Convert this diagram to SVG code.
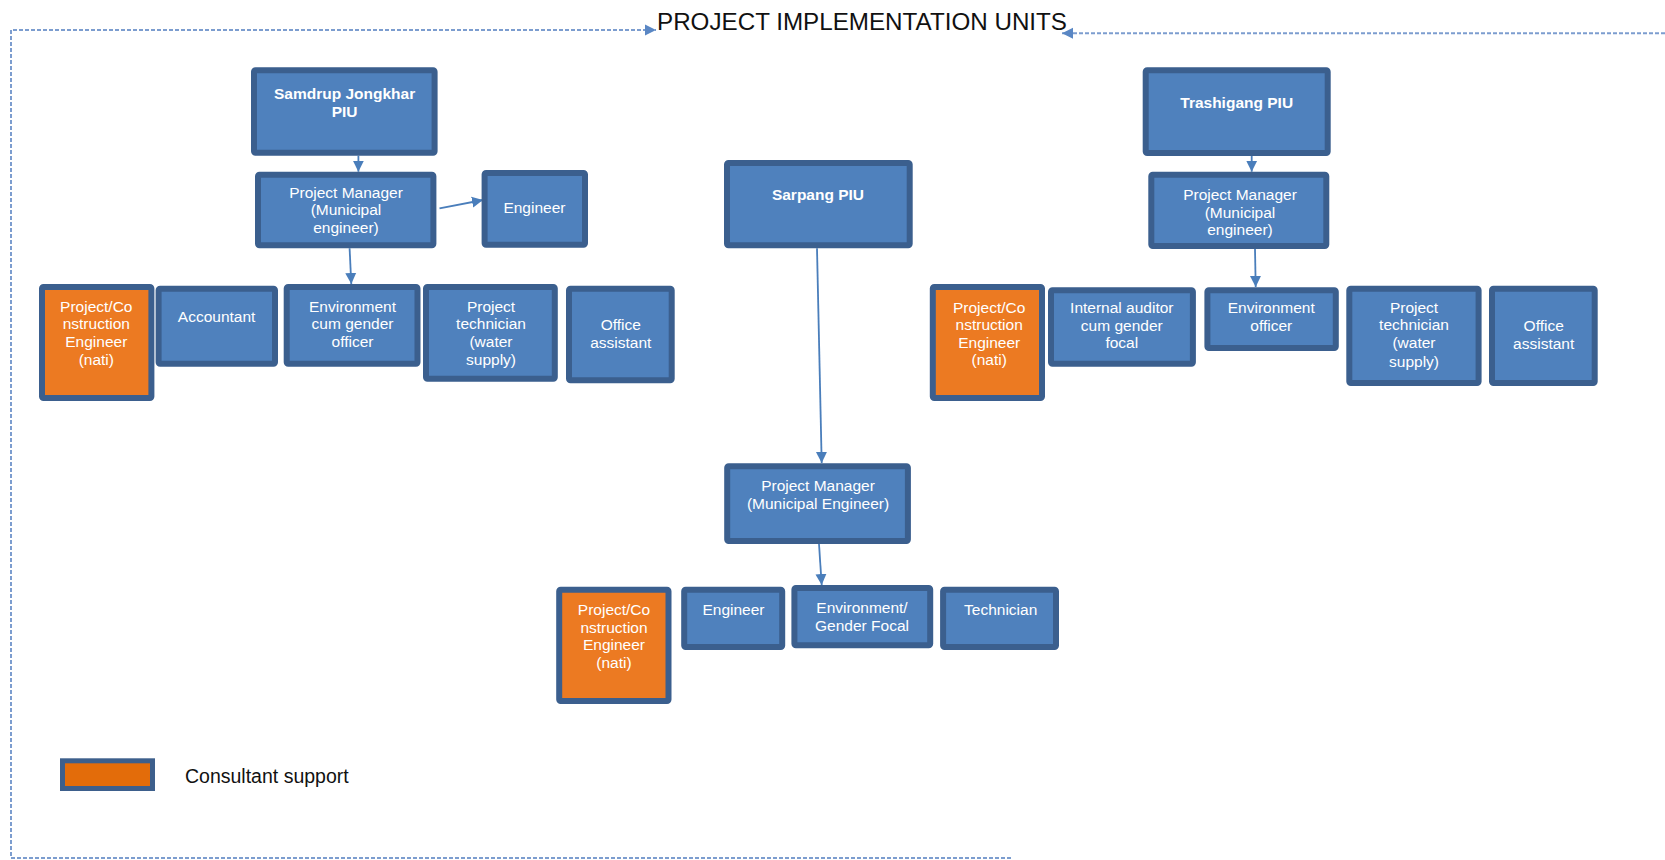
<svg xmlns="http://www.w3.org/2000/svg" width="1665" height="860" viewBox="0 0 1665 860">
<style>
.n{fill:#4F81BD;stroke:#3B5F8E;stroke-width:6;}
.o{fill:#EC7A22;stroke:#3B5F8E;stroke-width:6;}
.t{font-family:"Liberation Sans",Arial,sans-serif;font-size:15.5px;fill:#ffffff;text-anchor:middle;}
.b{font-weight:bold;}
.c{stroke:#4A7EBB;stroke-width:1.8;fill:none;}
.d{stroke:#7C9DCF;stroke-width:2;fill:none;stroke-dasharray:4 2;}
</style>
<defs>
<marker id="ah" markerUnits="userSpaceOnUse" markerWidth="12" markerHeight="12" refX="11" refY="6" orient="auto">
<path d="M0,0.5 L11,6 L0,11.5 z" fill="#4A7EBB"/>
</marker>
<marker id="ad" markerUnits="userSpaceOnUse" markerWidth="12" markerHeight="12" refX="11" refY="6" orient="auto">
<path d="M0,0.5 L11,6 L0,11.5 z" fill="#5A87C4"/>
</marker>
</defs>
<rect width="1665" height="860" fill="#ffffff"/>

<g id="frame">
<path class="d" d="M1011 858 L11 858 L11 30 L656 30" marker-end="url(#ad)"/>
<path class="d" d="M1665 33.3 L1062 33.3" marker-end="url(#ad)"/>
<text x="657" y="29.5" font-family="Liberation Sans, Arial, sans-serif" font-size="24" fill="#111111" textLength="410" lengthAdjust="spacingAndGlyphs">PROJECT IMPLEMENTATION UNITS</text>
</g>

<g id="connectors">
<path class="c" d="M358.4 155.7 L358.4 171.7" marker-end="url(#ah)"/>
<path class="c" d="M439.5 208.3 L483 200" marker-end="url(#ah)"/>
<path class="c" d="M349.6 248.3 L351.3 284" marker-end="url(#ah)"/>
<path class="c" d="M817 248.3 L821.7 463" marker-end="url(#ah)"/>
<path class="c" d="M819 544 L821.7 585" marker-end="url(#ah)"/>
<path class="c" d="M1251.7 156 L1251.7 171.7" marker-end="url(#ah)"/>
<path class="c" d="M1255 249 L1255.7 287" marker-end="url(#ah)"/>
</g>

<g id="samdrup-piu">
<rect class="n" x="254" y="70.3" width="180.6" height="82.4" rx="1.5"/>
<text class="t b" x="344.6" y="99">Samdrup Jongkhar</text>
<text class="t b" x="344.6" y="116.7">PIU</text>
</g>
<g id="samdrup-pm">
<rect class="n" x="258" y="174.7" width="175.4" height="70.6" rx="1.5"/>
<text class="t" x="346" y="197.5">Project Manager</text>
<text class="t" x="346" y="215.2">(Municipal</text>
<text class="t" x="346" y="233">engineer)</text>
</g>
<g id="samdrup-engineer">
<rect class="n" x="484.6" y="173" width="100.4" height="71.7" rx="1.5"/>
<text class="t" x="534.4" y="213.3">Engineer</text>
</g>
<g id="samdrup-pce">
<rect class="o" x="42" y="287" width="109.4" height="111" rx="1.5"/>
<text class="t" x="96.3" y="311.7">Project/Co</text>
<text class="t" x="96.3" y="329.3">nstruction</text>
<text class="t" x="96.3" y="346.7">Engineer</text>
<text class="t" x="96.3" y="365">(nati)</text>
</g>
<g id="samdrup-accountant">
<rect class="n" x="158.6" y="288.7" width="116.4" height="75" rx="1.5"/>
<text class="t" x="216.6" y="321.7">Accountant</text>
</g>
<g id="samdrup-env">
<rect class="n" x="286.7" y="287" width="130.8" height="76.7" rx="1.5"/>
<text class="t" x="352.5" y="311.7">Environment</text>
<text class="t" x="352.5" y="329.3">cum gender</text>
<text class="t" x="352.5" y="347">officer</text>
</g>
<g id="samdrup-tech">
<rect class="n" x="426" y="287" width="128.8" height="91.7" rx="1.5"/>
<text class="t" x="491" y="311.7">Project</text>
<text class="t" x="491" y="329.3">technician</text>
<text class="t" x="491" y="347">(water</text>
<text class="t" x="491" y="365">supply)</text>
</g>
<g id="samdrup-office">
<rect class="n" x="569" y="288.7" width="102.7" height="91.6" rx="1.5"/>
<text class="t" x="620.8" y="330">Office</text>
<text class="t" x="620.8" y="348">assistant</text>
</g>

<g id="sarpang-piu">
<rect class="n" x="727" y="163" width="182.7" height="82.3" rx="1.5"/>
<text class="t b" x="818" y="200">Sarpang PIU</text>
</g>
<g id="sarpang-pm">
<rect class="n" x="727.2" y="466.3" width="180.7" height="74.7" rx="1.5"/>
<text class="t" x="818" y="490.7">Project Manager</text>
<text class="t" x="818" y="509">(Municipal Engineer)</text>
</g>
<g id="sarpang-pce">
<rect class="o" x="559.2" y="589.7" width="109.3" height="111.3" rx="1.5"/>
<text class="t" x="614" y="615">Project/Co</text>
<text class="t" x="614" y="632.7">nstruction</text>
<text class="t" x="614" y="650">Engineer</text>
<text class="t" x="614" y="668.3">(nati)</text>
</g>
<g id="sarpang-engineer">
<rect class="n" x="684.2" y="589.7" width="98" height="57.3" rx="1.5"/>
<text class="t" x="733.5" y="615">Engineer</text>
</g>
<g id="sarpang-env">
<rect class="n" x="794.4" y="588" width="135.8" height="57.3" rx="1.5"/>
<text class="t" x="862" y="613.3">Environment/</text>
<text class="t" x="862" y="631">Gender Focal</text>
</g>
<g id="sarpang-tech">
<rect class="n" x="943.1" y="589.7" width="112.9" height="57.3" rx="1.5"/>
<text class="t" x="1000.7" y="615">Technician</text>
</g>

<g id="trashigang-piu">
<rect class="n" x="1145.7" y="70.3" width="182" height="82.7" rx="1.5"/>
<text class="t b" x="1236.7" y="108.3">Trashigang PIU</text>
</g>
<g id="trashigang-pm">
<rect class="n" x="1151.3" y="174.7" width="175" height="71.3" rx="1.5"/>
<text class="t" x="1240" y="200">Project Manager</text>
<text class="t" x="1240" y="217.5">(Municipal</text>
<text class="t" x="1240" y="235">engineer)</text>
</g>
<g id="trashigang-pce">
<rect class="o" x="932.8" y="287" width="109.2" height="111" rx="1.5"/>
<text class="t" x="989.2" y="312.7">Project/Co</text>
<text class="t" x="989.2" y="330">nstruction</text>
<text class="t" x="989.2" y="347.7">Engineer</text>
<text class="t" x="989.2" y="365">(nati)</text>
</g>
<g id="trashigang-auditor">
<rect class="n" x="1051" y="290.3" width="141.9" height="73.4" rx="1.5"/>
<text class="t" x="1121.8" y="312.7">Internal auditor</text>
<text class="t" x="1121.8" y="330.5">cum gender</text>
<text class="t" x="1121.8" y="348.3">focal</text>
</g>
<g id="trashigang-env">
<rect class="n" x="1207.4" y="290.3" width="128.4" height="57.7" rx="1.5"/>
<text class="t" x="1271.3" y="313.3">Environment</text>
<text class="t" x="1271.3" y="331">officer</text>
</g>
<g id="trashigang-tech">
<rect class="n" x="1349.3" y="288.7" width="129.3" height="94.3" rx="1.5"/>
<text class="t" x="1414" y="312.7">Project</text>
<text class="t" x="1414" y="330.3">technician</text>
<text class="t" x="1414" y="348.3">(water</text>
<text class="t" x="1414" y="366.5">supply)</text>
</g>
<g id="trashigang-office">
<rect class="n" x="1492" y="288.7" width="102.7" height="94.3" rx="1.5"/>
<text class="t" x="1543.7" y="331">Office</text>
<text class="t" x="1543.7" y="349">assistant</text>
</g>

<g id="legend">
<rect x="62.5" y="760.8" width="90" height="27.7" fill="#E36C0A" stroke="#3D5F8C" stroke-width="5"/>
<text x="185" y="783.3" font-family="Liberation Sans, Arial, sans-serif" font-size="19.5" fill="#111111">Consultant support</text>
</g>
</svg>
